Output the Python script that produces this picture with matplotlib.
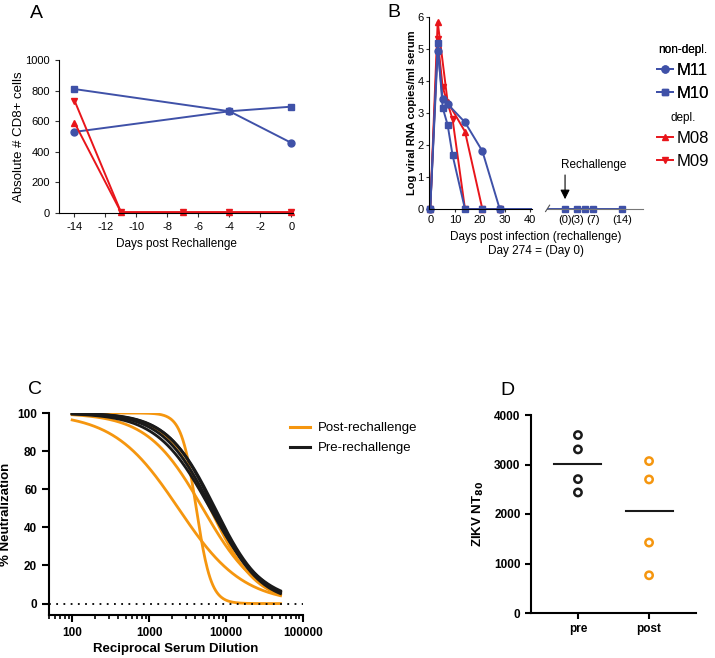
import numpy as np
import matplotlib
matplotlib.use("Agg")
import matplotlib.pyplot as plt
from matplotlib.lines import Line2D
from matplotlib.ticker import FixedLocator, FuncFormatter, LogLocator, NullFormatter

plt.rcParams['font.family'] = ['Liberation Sans', 'DejaVu Sans']
plt.rcParams['axes.unicode_minus'] = False

# ---- panel A: CD8+ counts ----
a_m11_days = [-14, -4, 0]
a_m11_vals = [530, 665, 458]
a_m10_days = [-14, -4, 0]
a_m10_vals = [810, 665, 695]
a_red_days = [-14, -11, -7, -4, 0]
a_m08_vals = [590, 5, 5, 5, 5]
a_m09_vals = [735, 5, 5, 5, 5]

# ---- panel B: viral load ----
b_m11_days = [0, 3, 5, 7, 14, 21, 28]
b_m11_vals = [0, 4.95, 3.43, 3.28, 2.71, 1.81, 0]
b_m10_days = [0, 3, 5, 7, 9, 14, 21, 28]
b_m10_vals = [0, 5.2, 3.17, 2.63, 1.68, 0, 0, 0]
b_m08_days = [0, 3, 7, 14, 21, 28]
b_m08_vals = [0, 5.85, 3.35, 2.42, 0, 0]
b_m09_days = [0, 3, 5, 9, 14, 21, 28]
b_m09_vals = [0, 5.3, 3.81, 2.8, 0, 0, 0]
re_days = [0, 3, 5, 7, 14]
re_vals = [0, 0, 0, 0, 0]
re_ticks = [0, 3, 7, 14]
re_labels = ['(0)', '(3)', '(7)', '(14)']

# ---- panel C: neutralization curve fits (IC50, hill) ----
pre_ic50 = [6900, 7200, 6500, 6200]
pre_hill = [1.45, 1.40, 1.35, 1.25]
post_ic50 = [4100, 2400, 4970, 6200]
post_hill = [4.5, 1.03, 1.2, 1.45]

# ---- panel D: NT80 ----
nt80_pre = [3595, 3305, 2705, 2435]
nt80_post = [3069, 2698, 1423, 762]

BLUE = '#3F51A8'
RED = '#E8151B'
ORANGE = '#F5960F'
BLACK = '#1A1A1A'

W, H = 715, 658
fig = plt.figure(figsize=(W / 100, H / 100), dpi=100)


def px_axes(l, t, r, b):
    return fig.add_axes([l / W, 1 - b / H, (r - l) / W, (b - t) / H])


# ================= A =================
ax = px_axes(59, 60, 293, 213)
ax.plot(a_m11_days, a_m11_vals, color=BLUE, marker='o', ms=5, lw=1.4, clip_on=False)
ax.plot(a_m10_days, a_m10_vals, color=BLUE, marker='s', ms=5, lw=1.4, clip_on=False)
ax.plot(a_red_days, a_m08_vals, color=RED, marker='^', ms=5, lw=1.4, clip_on=False)
ax.plot(a_red_days, a_m09_vals, color=RED, marker='v', ms=5, lw=1.4, clip_on=False)
ax.set_xlim(-15, 0.1)
ax.set_ylim(0, 1000)
ax.set_xticks(range(-14, 1, 2))
ax.set_yticks(range(0, 1001, 200))
for s in ['top', 'right']:
    ax.spines[s].set_visible(False)
ax.tick_params(labelsize=8, length=3, color='#333333')
ax.set_xlabel('Days post Rechallenge', fontsize=8.5)
ax.set_ylabel('Absolute # CD8+ cells', fontsize=9.5, labelpad=0)
fig.text(30 / W, 1 - 18 / H, 'A', fontsize=14, ha='left', va='baseline')

# ================= B =================
b1 = px_axes(429, 17, 532, 209)
b1.plot(b_m08_days, b_m08_vals, color=RED, marker='^', ms=5, lw=1.4, clip_on=False)
b1.plot(b_m09_days, b_m09_vals, color=RED, marker='v', ms=5, lw=1.4, clip_on=False)
b1.plot(b_m11_days, b_m11_vals, color=BLUE, marker='o', ms=5, lw=1.4, clip_on=False)
b1.plot(b_m10_days, b_m10_vals, color=BLUE, marker='s', ms=5, lw=1.4, clip_on=False)
b1.plot([b_m11_days[-1], 41], [0, 0], color=BLUE, lw=1.4)
b1.set_xlim(-0.5, 41)
b1.set_ylim(0, 6)
b1.set_xticks(range(0, 41, 10))
b1.set_yticks(range(0, 7))
for s in ['top', 'right']:
    b1.spines[s].set_visible(False)
b1.tick_params(labelsize=8, length=2, color='#333333', pad=2)
b1.set_ylabel('Log viral RNA copies/ml serum', fontsize=8, fontweight='bold', labelpad=0)

b2 = px_axes(548, 17, 643, 209)
b2.plot([-4.2] + re_days, [0] + re_vals, color=BLUE, marker='s', ms=5, lw=1.4,
        markevery=list(range(1, len(re_days) + 1)), clip_on=False)
b2.set_xlim(-4.2, 19.2)
b2.set_ylim(0, 6)
for s in ['top', 'right', 'left']:
    b2.spines[s].set_visible(False)
b2.spines['bottom'].set_color('#777777')
b2.set_yticks([])
b2.set_xticks(re_ticks)
b2.set_xticklabels(re_labels)
b2.tick_params(labelsize=8, length=0, pad=4)
b2.plot([-4.8, -3.8], [-0.08, 0.12], color='#555555', lw=0.8, clip_on=False)
b2.annotate('', xy=(0, 0.22), xytext=(0, 1.15),
            arrowprops=dict(arrowstyle='-|>', color='black', lw=0.8, mutation_scale=14))
b2.text(7, 1.2, 'Rechallenge', fontsize=8.5, ha='center', va='bottom')
fig.text(536 / W, 1 - 237 / H, 'Days post infection (rechallenge)', fontsize=8.5,
         ha='center', va='center')
fig.text(536 / W, 1 - 251 / H, 'Day 274 = (Day 0)', fontsize=8.5, ha='center', va='center')
fig.text(387 / W, 1 - 17 / H, 'B', fontsize=14, ha='left', va='baseline')

h_m11 = Line2D([], [], color=BLUE, marker='o', ms=5, lw=1.4)
h_m10 = Line2D([], [], color=BLUE, marker='s', ms=5, lw=1.4)
h_m08 = Line2D([], [], color=RED, marker='^', ms=5, lw=1.4)
h_m09 = Line2D([], [], color=RED, marker='v', ms=5, lw=1.4)
leg_kw = dict(loc='upper left', frameon=False, fontsize=12, title_fontsize=8.5,
              handlelength=1.0, handletextpad=0.2, labelspacing=0.45,
              borderpad=0.1, borderaxespad=0)
leg1 = fig.legend([h_m11, h_m10], ['M11', 'M10'], title='non-depl.',
                  bbox_to_anchor=(655 / W, 1 - 42 / H), **leg_kw)
fig.add_artist(leg1)
fig.legend([h_m08, h_m09], ['M08', 'M09'], title='depl.',
           bbox_to_anchor=(655 / W, 1 - 110 / H), **leg_kw)

# ================= C =================
cx = px_axes(49, 413, 303, 615)
xs = np.logspace(2, np.log10(51000), 300)
for ic, hl in zip(post_ic50, post_hill):
    cx.plot(xs, 100 / (1 + (xs / ic) ** hl), color=ORANGE, lw=2)
for ic, hl in zip(pre_ic50, pre_hill):
    cx.plot(xs, 100 / (1 + (xs / ic) ** hl), color=BLACK, lw=2)
cx.axhline(0, color='black', lw=1.3, ls=(0, (1, 3)))
cx.set_xscale('log')
cx.set_xlim(50, 100000)
cx.set_ylim(-6, 100)
cx.xaxis.set_major_locator(FixedLocator([100, 1000, 10000, 100000]))
cx.xaxis.set_major_formatter(FuncFormatter(lambda v, p: '%d' % v))
cx.xaxis.set_minor_locator(LogLocator(base=10, subs=np.arange(2, 10)))
cx.xaxis.set_minor_formatter(NullFormatter())
cx.set_yticks(range(0, 101, 20))
for s in ['top', 'right']:
    cx.spines[s].set_visible(False)
for s in ['left', 'bottom']:
    cx.spines[s].set_linewidth(1.5)
cx.tick_params(which='major', length=5, width=1.5, labelsize=8.5)
cx.tick_params(which='minor', length=3, width=1.2)
for lb in cx.get_xticklabels() + cx.get_yticklabels():
    lb.set_fontweight('bold')
cx.set_xlabel('Reciprocal Serum Dilution', fontsize=9.5, fontweight='bold', labelpad=3)
cx.set_ylabel('% Neutralization', fontsize=9.5, fontweight='bold', labelpad=4)
h_post = Line2D([], [], color=ORANGE, lw=2.2)
h_pre = Line2D([], [], color=BLACK, lw=2.2)
fig.legend([h_post, h_pre], ['Post-rechallenge', 'Pre-rechallenge'], loc='upper left',
           bbox_to_anchor=(282 / W, 1 - 414 / H), frameon=False, fontsize=9.5,
           handlelength=1.5, handletextpad=0.6, labelspacing=0.6, borderpad=0.1)
fig.text(28 / W, 1 - 394 / H, 'C', fontsize=14, ha='left', va='baseline')

# ================= D =================
dx = px_axes(531, 415, 696, 613)
groups = [nt80_pre, nt80_post]
gcolors = [BLACK, ORANGE]
for i, (vals, c) in enumerate(zip(groups, gcolors)):
    dx.scatter([i] * len(vals), vals, s=28, facecolors='none', edgecolors=c,
               linewidths=1.8, clip_on=False, zorder=3)
    med = np.median(vals)
    dx.plot([i - 0.33, i + 0.33], [med, med], color=BLACK, lw=1.5)
dx.set_xlim(-0.66, 1.66)
dx.set_ylim(0, 4000)
dx.set_xticks([0, 1])
dx.set_xticklabels(['pre', 'post'])
dx.set_yticks(range(0, 4001, 1000))
for s in ['top', 'right']:
    dx.spines[s].set_visible(False)
for s in ['left', 'bottom']:
    dx.spines[s].set_linewidth(1.5)
dx.tick_params(length=4, width=1.5, labelsize=8.5)
for lb in dx.get_xticklabels() + dx.get_yticklabels():
    lb.set_fontweight('bold')
dx.set_ylabel('ZIKV NT$_{\\mathbf{80}}$', fontsize=9.5, fontweight='bold', labelpad=6)
fig.text(500 / W, 1 - 395 / H, 'D', fontsize=14, ha='left', va='baseline')

fig.savefig('out.png', dpi=100)
